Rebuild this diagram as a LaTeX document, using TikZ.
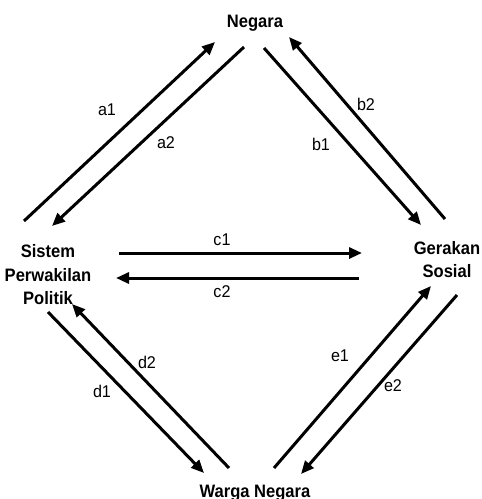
\documentclass[tikz,border=0pt]{standalone}
\usepackage{fontspec}
\setmainfont{Liberation Sans}[FakeStretch=0.92]
\newfontfamily\labfont{Liberation Sans}[FakeStretch=0.95]
\usetikzlibrary{arrows.meta}
\begin{document}
\begin{tikzpicture}[x=1pt,y=-1pt,
  actor/.style={font=\bfseries\fontsize{18}{23.4}\selectfont, align=center, inner sep=0pt, anchor=base},
  lab/.style={font=\labfont\fontsize{17}{20}\selectfont, inner sep=0pt, anchor=base},
  flow/.style={line width=3pt, -{Triangle[length=13pt,width=11pt]}}]
\useasboundingbox (0,0) rectangle (482,499);
% actors (base = baseline of the last line)
\node[actor] (neg) at (255,27.7) {Negara};
\node[actor] (sis) at (48,304.5) {Sistem\\Perwakilan\\Politik};
\node[actor] (ger) at (447,277.7) {Gerakan\\Sosial};
\node[actor] (war) at (255,497.5) {Warga Negara};
% arrow end points
\coordinate (a1s) at (24,221);  \coordinate (a1e) at (215,42);
\coordinate (a2s) at (244,47);  \coordinate (a2e) at (52,226);
\coordinate (b1s) at (264,48);  \coordinate (b1e) at (421,225);
\coordinate (b2s) at (445,219); \coordinate (b2e) at (289,37);
\coordinate (c1s) at (119,253); \coordinate (c1e) at (362,253);
\coordinate (c2s) at (359,278); \coordinate (c2e) at (116,278);
\coordinate (d1s) at (48,312);  \coordinate (d1e) at (204,473);
\coordinate (d2s) at (229,468); \coordinate (d2e) at (72,304);
\coordinate (e1s) at (274,468); \coordinate (e1e) at (431,286);
\coordinate (e2s) at (457,295); \coordinate (e2e) at (301,474);
% arrows
\draw[flow] (a1s) -- (a1e);
\draw[flow] (a2s) -- (a2e);
\draw[flow] (b1s) -- (b1e);
\draw[flow] (b2s) -- (b2e);
\draw[flow] (c1s) -- (c1e);
\draw[flow] (c2s) -- (c2e);
\draw[flow] (d1s) -- (d1e);
\draw[flow] (d2s) -- (d2e);
\draw[flow] (e1s) -- (e1e);
\draw[flow] (e2s) -- (e2e);
% labels
\node[lab] (la1) at (107,115) {a1};
\node[lab] (la2) at (166,148) {a2};
\node[lab] (lb1) at (321,150) {b1};
\node[lab] (lb2) at (366,110) {b2};
\node[lab] (lc1) at (222,245) {c1};
\node[lab] (lc2) at (222,297) {c2};
\node[lab] (ld1) at (102,397) {d1};
\node[lab] (ld2) at (147,368) {d2};
\node[lab] (le1) at (340,361) {e1};
\node[lab] (le2) at (393,391) {e2};
\end{tikzpicture}
\end{document}
